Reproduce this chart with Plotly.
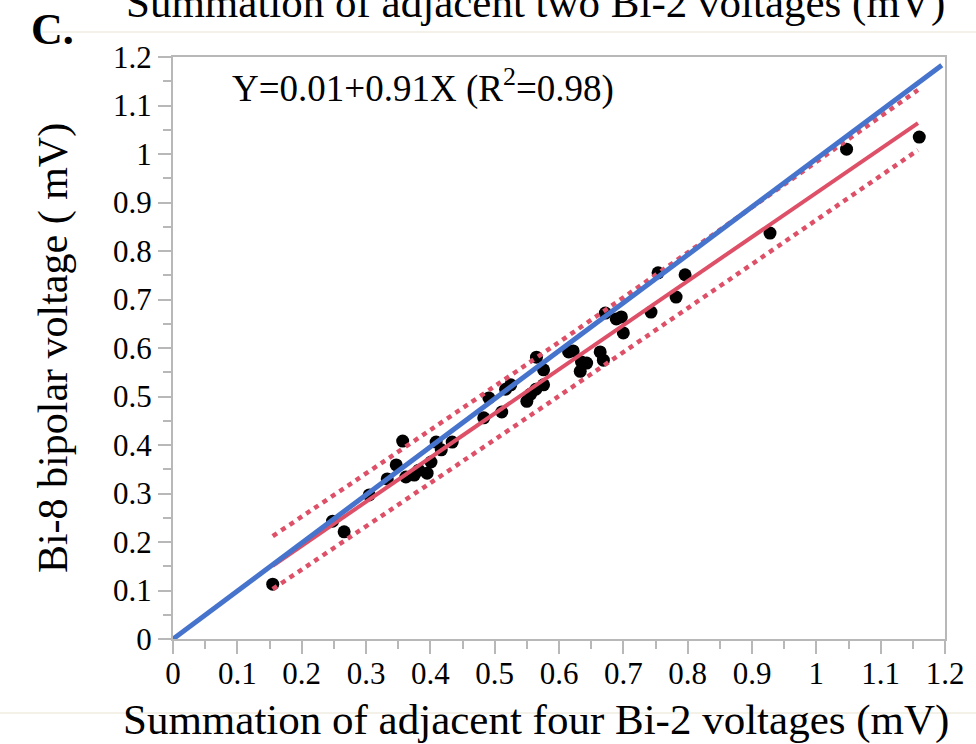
import plotly.graph_objects as go

# Measured voltages (mV)
sum_four_bi2 = [0.155, 0.266, 0.248, 0.305, 0.333, 0.347, 0.357, 0.362, 0.375, 0.382,
                0.395, 0.401, 0.409, 0.417, 0.434, 0.483, 0.491, 0.511, 0.517, 0.525,
                0.550, 0.556, 0.564, 0.576, 0.565, 0.576, 0.615, 0.622, 0.635, 0.633,
                0.643, 0.664, 0.669, 0.672, 0.689, 0.697, 0.700, 0.743, 0.782, 0.754,
                0.796, 0.928, 1.047, 1.160]
bi8_bipolar = [0.113, 0.221, 0.243, 0.297, 0.330, 0.359, 0.408, 0.334, 0.338, 0.348,
               0.342, 0.365, 0.406, 0.390, 0.406, 0.456, 0.497, 0.468, 0.515, 0.524,
               0.490, 0.505, 0.515, 0.524, 0.581, 0.555, 0.592, 0.594, 0.571, 0.552,
               0.569, 0.592, 0.575, 0.672, 0.660, 0.664, 0.631, 0.674, 0.705, 0.755,
               0.751, 0.837, 1.010, 1.035]

# Regression Y = 0.01 + 0.91X and its prediction band
fit_intercept = 0.01
fit_slope = 0.91
fit_x = [0.155, 1.158]
band_x = [0.155, 0.60, 1.158]
band_upper = [0.212, 0.612, 1.132]
band_lower = [0.103, 0.501, 1.008]

# Reference line
ref_x = [0.0, 1.195]
ref_y = [0.0, 1.183]

FONT = "Liberation Serif, Times New Roman, serif"
RED = "#DE5068"
BLUE = "#4673CC"
AXIS_GRAY = "#B8B8B8"

fig = go.Figure()

fig.add_trace(go.Scatter(
    x=sum_four_bi2, y=bi8_bipolar, mode="markers",
    marker=dict(color="black", size=13, line=dict(width=0)),
    showlegend=False, cliponaxis=True,
))

fig.add_trace(go.Scatter(
    x=band_x, y=band_upper, mode="lines",
    line=dict(color=RED, width=4.5, dash="5px,5px", shape="spline"),
    showlegend=False,
))
fig.add_trace(go.Scatter(
    x=band_x, y=band_lower, mode="lines",
    line=dict(color=RED, width=4.5, dash="5px,5px", shape="spline"),
    showlegend=False,
))
fig.add_trace(go.Scatter(
    x=fit_x, y=[fit_intercept + fit_slope * v for v in fit_x], mode="lines",
    line=dict(color=RED, width=4),
    showlegend=False,
))
fig.add_trace(go.Scatter(
    x=ref_x, y=ref_y, mode="lines",
    line=dict(color=BLUE, width=5),
    showlegend=False,
))

axis_common = dict(
    range=[0, 1.2], dtick=0.1, tick0=0,
    showgrid=False, zeroline=False,
    showline=True, linecolor=AXIS_GRAY, linewidth=2, mirror=True,
    ticks="outside", ticklen=13, tickwidth=2, tickcolor=AXIS_GRAY,
    minor=dict(ticks="outside", ticklen=8, tickwidth=2, tickcolor=AXIS_GRAY, dtick=0.05),
    tickfont=dict(family=FONT, size=31, color="black"),
    tickformat="~g",
)

fig.update_xaxes(**axis_common, ticklabelstandoff=-7)
fig.update_yaxes(**axis_common,
                 title=dict(text="Bi-8 bipolar voltage ( mV)",
                            font=dict(family=FONT, size=42, color="black"), standoff=32))

fig.update_layout(
    width=976, height=744,
    margin=dict(l=173, r=28, t=57, b=105),
    plot_bgcolor="white", paper_bgcolor="white",
    font=dict(family=FONT, color="black"),
    annotations=[
        dict(text="Y=0.01+0.91X (R<sup>2</sup>=0.98)", xref="paper", yref="paper",
             x=0.074, y=0.950, xanchor="left", yanchor="middle", showarrow=False,
             font=dict(family=FONT, size=37, color="black")),
        dict(text="Summation of adjacent two Bi-2 voltages (mV)", xref="paper", yref="paper",
             x=0.470, y=1.048, xanchor="center", yanchor="bottom", showarrow=False,
             font=dict(family=FONT, size=43, color="black")),
        dict(text="Summation of adjacent four Bi-2 voltages (mV)", xref="paper", yref="paper",
             x=0.470, y=-0.183, xanchor="center", yanchor="bottom", showarrow=False,
             font=dict(family=FONT, size=43, color="black")),
        dict(text="<b>C.</b>", xref="paper", yref="paper",
             x=-0.186, y=1.002, xanchor="left", yanchor="bottom", showarrow=False,
             font=dict(family=FONT, size=44, color="black")),
    ],
    shapes=[
        dict(type="line", xref="paper", yref="paper", x0=-0.17, x1=1.04, y0=1.043, y1=1.043,
             line=dict(color="#F4F1E8", width=2)),
        dict(type="line", xref="paper", yref="paper", x0=-0.23, x1=1.04, y0=-0.127, y1=-0.127,
             line=dict(color="#F4F1E8", width=2)),
    ],
)

fig.write_html("out.html")
